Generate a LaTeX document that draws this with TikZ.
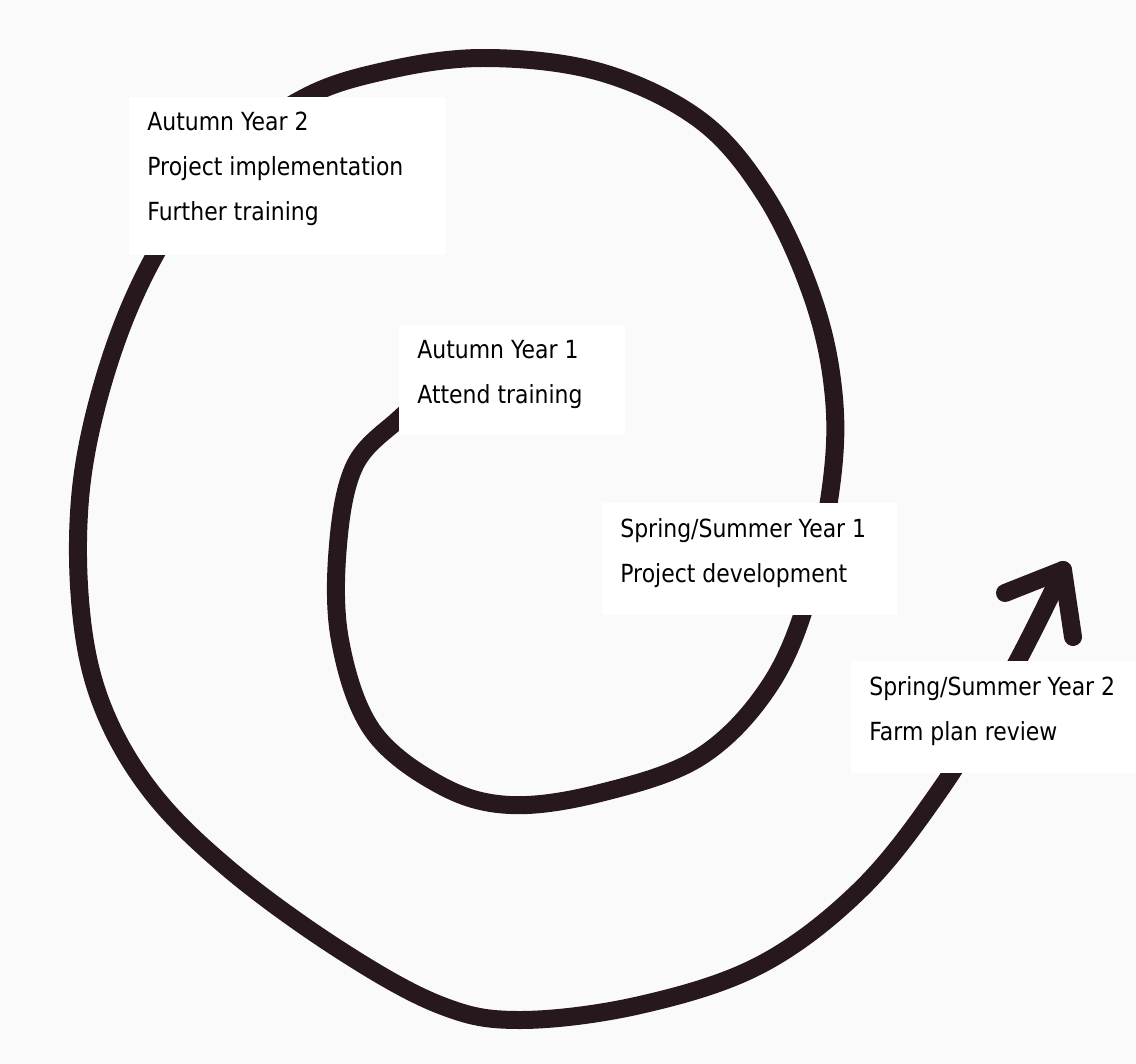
\documentclass[tikz,border=0pt]{standalone}
\usepackage{fontspec}
\setmainfont{DejaVu Sans}[FakeStretch=0.88]
\begin{document}
\begin{tikzpicture}[x=0.02cm,y=-0.02cm]
    \definecolor{ink}{RGB}{38,24,28}
    \definecolor{paper}{RGB}{250,250,250}
    \tikzstyle{spiral}=[draw=ink,line width=0.36cm,line cap=round,line join=round]
    \tikzstyle{card}=[rectangle,fill=white,inner sep=0pt,anchor=north west]
    \tikzstyle{notes}=[anchor=north west,inner sep=0pt,align=left,font={\fontsize{14.2}{25.6}\selectfont}]
    \useasboundingbox [fill=paper] (0,0) rectangle (1136,1064);
    \coordinate (tip) at (1063,570);
    % the spiral, from the inner end outwards
    \draw [spiral] plot [smooth,tension=0.6] coordinates {
        (440,385) (400,418) (355,465) (338,545) (340,640) (372,730) (440,785)
        (510,805) (600,793) (700,757) (770,685) (810,590) (833,470) (832,380)
        (810,290) (765,195) (700,120) (600,72) (483,58) (380,72) (300,100)
        (220,160) (155,255) (110,360) (82,480) (80,600) (100,700) (150,790)
        (230,870) (340,950) (440,1005) (520,1020) (640,1005) (760,965)
        (860,890) (940,790) (1010,675) (1063,570)};
    \draw [spiral] (1005,593) -- (tip) -- (1073,637);
    % labels
	\node (aut2) at (129,97)  [card,minimum width=6.34cm,minimum height=3.16cm] {};
	\node (aut1) at (399,325) [card,minimum width=4.52cm,minimum height=2.2cm] {};
	\node (spr1) at (602,503) [card,minimum width=5.9cm,minimum height=2.24cm] {};
	\node (spr2) at (851,661) [card,minimum width=5.7cm,minimum height=2.24cm] {};
	\node (aut2txt) at ([shift={(18,15)}]aut2.north west) [notes] {Autumn Year 2\\Project implementation\\Further training};
	\node (aut1txt) at ([shift={(18,15)}]aut1.north west) [notes] {Autumn Year 1\\Attend training};
	\node (spr1txt) at ([shift={(18,15)}]spr1.north west) [notes] {Spring/Summer Year 1\\Project development};
	\node (spr2txt) at ([shift={(18,15)}]spr2.north west) [notes] {Spring/Summer Year 2\\Farm plan review};
\end{tikzpicture}
\end{document}
